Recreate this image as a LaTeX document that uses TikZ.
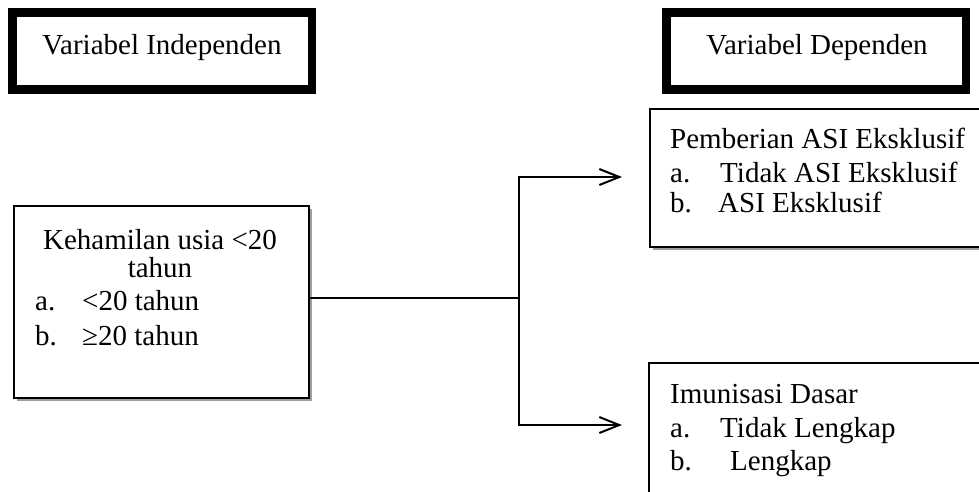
\documentclass[tikz,border=0pt]{standalone}
\usepackage{fontspec}
\setmainfont{Liberation Serif}
\usetikzlibrary{arrows.meta,shadows}
\begin{document}
\begin{tikzpicture}[x=1pt,y=-1pt,
  thickbox/.style={draw, line width=8.5pt, minimum width=299.5pt, minimum height=77pt, inner sep=0pt},
  varbox/.style={draw, line width=2pt, fill=white, inner sep=0pt, anchor=north west,
    drop shadow={shadow xshift=3pt, shadow yshift=-3pt, fill=black!38, opacity=1}},
  txt/.style={inner sep=0pt, font=\fontsize{29}{33}\selectfont},
  conn/.style={line width=2pt},
  arr/.style={conn, -{Straight Barb[length=20pt,width=16pt]}}
]
\useasboundingbox (0,0) rectangle (979,492);
\clip (0,0) rectangle (979,492);
% header boxes
\node[thickbox] (indep) at (162.25,51) {};
\node[thickbox] (dep) at (816,51) {};
\node[txt, anchor=base] (indeplbl) at (162,55) {Variabel Independen};
\node[txt, anchor=base] (deplbl) at (817,55) {Variabel Dependen};
% variable boxes
\node[varbox, minimum width=295pt, minimum height=192pt] (keh) at (13,205) {};
\node[varbox, minimum width=360pt, minimum height=138pt] (asi) at (649,108) {};
\node[varbox, minimum width=360pt, minimum height=200pt] (imu) at (648,362) {};
% texts of independent box
\node[txt, anchor=base] (k1) at (160,249) {Kehamilan usia <20};
\node[txt, anchor=base] (k2) at (160,277) {tahun};
\node[txt, anchor=base west] (k3) at (35,310) {\makebox[47pt][l]{a.}<20 tahun};
\node[txt, anchor=base west] (k4) at (35,345) {\makebox[47pt][l]{b.}≥20 tahun};
% texts of ASI box
\node[txt, anchor=base west] (a1) at (670,148) {Pemberian ASI Eksklusif};
\node[txt, anchor=base west] (a2) at (670,182) {\makebox[50pt][l]{a.}Tidak ASI Eksklusif};
\node[txt, anchor=base west] (a3) at (670,212) {\makebox[48pt][l]{b.}ASI Eksklusif};
% texts of imunisasi box
\node[txt, anchor=base west] (i1) at (670,403) {Imunisasi Dasar};
\node[txt, anchor=base west] (i2) at (670,437) {\makebox[50pt][l]{a.}Tidak Lengkap};
\node[txt, anchor=base west] (i3) at (670,470) {\makebox[60pt][l]{b.}Lengkap};
% connectors
\coordinate (j) at (519,298);
\coordinate (t1) at (622,177);
\coordinate (t2) at (622,425);
\draw[conn] (keh.east |- j) -- (j);
\draw[arr] (j) |- (t1);
\draw[arr] (j) |- (t2);
\end{tikzpicture}
\end{document}
